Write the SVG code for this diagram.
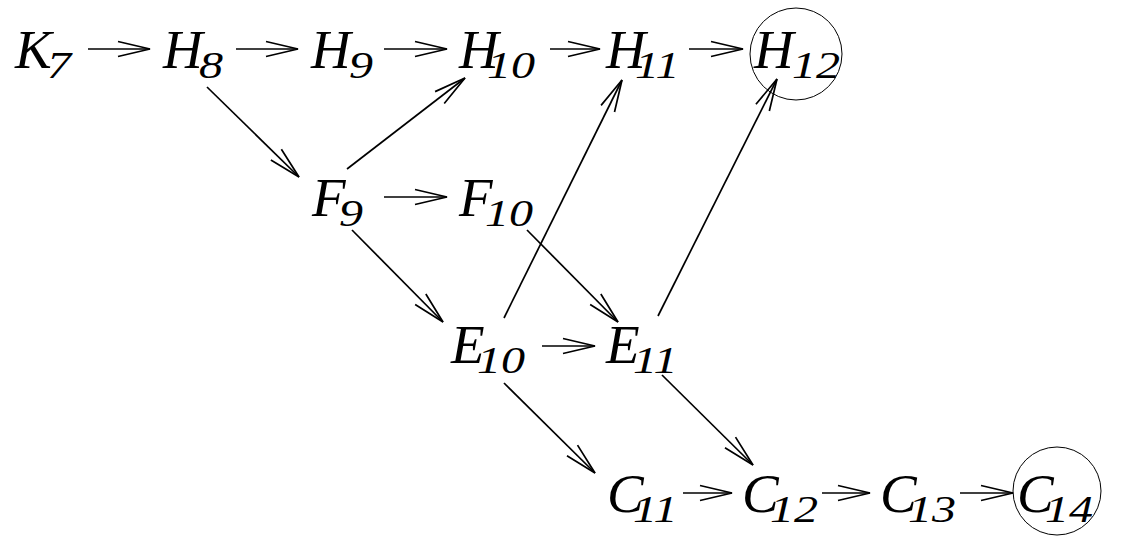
<svg xmlns="http://www.w3.org/2000/svg" width="1137" height="539" viewBox="0 0 1137 539">
<style>
text{font-family:"Liberation Serif","Times New Roman",serif;font-style:italic;fill:#000}
.m{font-size:55px}
.s{font-size:37px}
.e{stroke:#000;stroke-width:1.7;fill:none;marker-end:url(#ah)}
.c{stroke:#000;stroke-width:1;fill:none}
</style>
<defs>
<marker id="ah" markerUnits="userSpaceOnUse" orient="auto" markerWidth="40" markerHeight="20" viewBox="-34 -10 36 20" refX="0" refY="0" overflow="visible">
<path d="M-32,-7.5 L0,0 L-32,7.5" fill="none" stroke="#000" stroke-width="1.7"/>
</marker>
</defs>
<rect width="1137" height="539" fill="#fff"/>
<g id="connectors">
<line class="e" x1="88" y1="49" x2="150" y2="49"/>
<line class="e" x1="236" y1="49" x2="298" y2="49"/>
<line class="e" x1="384" y1="49" x2="447" y2="49"/>
<line class="e" x1="550" y1="49" x2="600" y2="49"/>
<line class="e" x1="689" y1="49" x2="743" y2="49"/>
<line class="e" x1="207" y1="87" x2="299" y2="177"/>
<line class="e" x1="347" y1="169" x2="465" y2="78"/>
<line class="e" x1="384" y1="197" x2="447" y2="197"/>
<line class="e" x1="352" y1="230" x2="443" y2="322"/>
<line class="e" x1="527" y1="230" x2="618" y2="322"/>
<line class="e" x1="504" y1="318" x2="622" y2="80"/>
<line class="e" x1="658" y1="316" x2="777" y2="79"/>
<line class="e" x1="542" y1="346" x2="595" y2="346"/>
<line class="e" x1="504" y1="383" x2="595" y2="473"/>
<line class="e" x1="662" y1="375" x2="753" y2="465"/>
<line class="e" x1="683" y1="493" x2="732" y2="493"/>
<line class="e" x1="822" y1="493" x2="870" y2="493"/>
<line class="e" x1="960" y1="493" x2="1013" y2="493"/>
</g>
<g id="K7"><text class="m" x="15" y="68">K</text><text class="s" transform="translate(47,78) scale(1.3,1)">7</text></g>
<g id="H8"><text class="m" x="163" y="68">H</text><text class="s" transform="translate(199,78) scale(1.3,1)">8</text></g>
<g id="H9"><text class="m" x="311" y="68">H</text><text class="s" transform="translate(349,78) scale(1.3,1)">9</text></g>
<g id="H10"><text class="m" x="459" y="68">H</text><text class="s" transform="translate(487,78) scale(1.3,1)">10</text></g>
<g id="H11"><text class="m" x="606" y="68">H</text><text class="s" transform="translate(635,78) scale(1.3,1)">11</text></g>
<g id="H12"><circle class="c" cx="796" cy="54" r="46"/><text class="m" x="754" y="68">H</text><text class="s" transform="translate(792,78) scale(1.3,1)">12</text></g>
<g id="F9"><text class="m" x="312" y="216">F</text><text class="s" transform="translate(339,226) scale(1.3,1)">9</text></g>
<g id="F10"><text class="m" x="459" y="216">F</text><text class="s" transform="translate(485,226) scale(1.3,1)">10</text></g>
<g id="E10"><text class="m" x="451" y="363">E</text><text class="s" transform="translate(477,373) scale(1.3,1)">10</text></g>
<g id="E11"><text class="m" x="606" y="363">E</text><text class="s" transform="translate(633,373) scale(1.3,1)">11</text></g>
<g id="C11"><text class="m" x="607" y="512">C</text><text class="s" transform="translate(633,522) scale(1.3,1)">11</text></g>
<g id="C12"><text class="m" x="742" y="512">C</text><text class="s" transform="translate(770,522) scale(1.3,1)">12</text></g>
<g id="C13"><text class="m" x="880" y="512">C</text><text class="s" transform="translate(908,522) scale(1.3,1)">13</text></g>
<g id="C14"><circle class="c" cx="1057" cy="491" r="44"/><text class="m" x="1017" y="512">C</text><text class="s" transform="translate(1045,522) scale(1.3,1)">14</text></g>
</svg>
